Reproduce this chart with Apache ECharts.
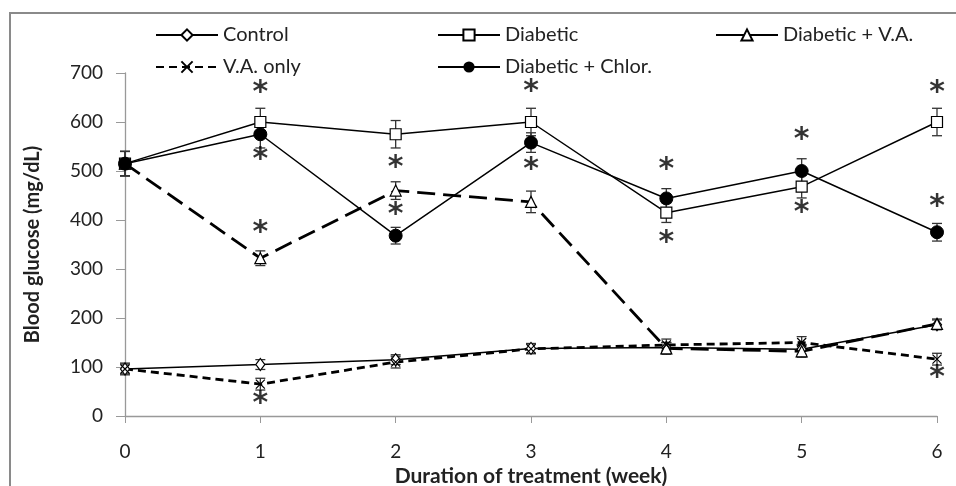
<!DOCTYPE html>
<html>
<head>
<meta charset="utf-8">
<script src="https://cdn.jsdelivr.net/npm/echarts@6/dist/echarts.min.js"></script>
<style>
  html, body { margin: 0; padding: 0; background: #fff; }
  #chart { width: 956px; height: 486px; }
</style>
</head>
<body>
<div id="chart"></div>
<script>
// weeks of treatment
let weeks = [0, 1, 2, 3, 4, 5, 6]

// mean blood glucose (mg/dL)
let control = [96, 105, 115, 138, 140, 136, 186]
let diabetic = [515, 600, 575, 600, 415, 468, 600]
let diabeticVA = [515, 322, 460, 437, 138, 132, 188]
let vaOnly = [96, 65, 110, 137, 145, 150, 116]
let diabeticChlor = [515, 575, 368, 558, 444, 500, 375]

// error bars (+/-)
let controlErr = [10, 10, 10, 10, 10, 10, 10]
let diabeticErr = [25, 28, 28, 28, 20, 23, 28]
let diabeticVAErr = [25, 15, 18, 22, 12, 12, 10]
let vaOnlyErr = [12, 12, 12, 10, 12, 12, 12]
let diabeticChlorErr = [25, 28, 17, 20, 20, 25, 18]

// significance asterisks
let starX = [1, 1, 1, 1, 2, 2, 3, 3, 4, 4, 5, 5, 6, 6, 6]
let starY = [658, 522, 374, 24, 505, 410, 660, 502, 502, 352, 563, 414, 659, 427, 77]

let yTicks = [0, 100, 200, 300, 400, 500, 600, 700]

const FONT = 'Lato'

let chart = echarts.init(document.getElementById('chart'), null, {renderer: 'canvas'})

function pairs(vals) {
    return weeks.map((w, i) => [w, vals[i]])
}
function errData(vals, errs) {
    return weeks.map((w, i) => [w, vals[i] - errs[i], vals[i] + errs[i]])
}
function errRender(params, api) {
    let x = api.value(0)
    let lo = api.coord([x, api.value(1)])
    let hi = api.coord([x, api.value(2)])
    let cap = 5
    let st = {stroke: '#333', lineWidth: 1.3}
    return {
        type: 'group',
        children: [
            {type: 'line', shape: {x1: lo[0], y1: lo[1], x2: hi[0], y2: hi[1]}, style: st},
            {type: 'line', shape: {x1: lo[0] - cap, y1: lo[1], x2: lo[0] + cap, y2: lo[1]}, style: st},
            {type: 'line', shape: {x1: hi[0] - cap, y1: hi[1], x2: hi[0] + cap, y2: hi[1]}, style: st}
        ]
    }
}
function errSeries(vals, errs) {
    return {
        type: 'custom',
        renderItem: errRender,
        data: errData(vals, errs),
        encode: {x: 0, y: [1, 2]},
        silent: true,
        z: 1
    }
}

const hollow = {color: '#fff', borderColor: '#000', borderWidth: 1.2}
const crossPath = 'path://M0,0L10,10M10,0L0,10'

function legendItem(name, left, top, lineStyle) {
    let item = {name: name}
    if (lineStyle) item.lineStyle = lineStyle
    return {
        data: [item],
        left: left,
        top: top,
        itemWidth: 62,
        itemHeight: 14,
        textStyle: {fontFamily: FONT, fontSize: 20, color: '#222'},
        selectedMode: false
    }
}

let option = {
    animation: false,
    backgroundColor: '#fff',
    graphic: [{
        type: 'rect',
        shape: {x: 10, y: 13, width: 970, height: 500},
        style: {fill: 'none', stroke: '#8a8a8a', lineWidth: 2},
        silent: true
    }],
    legend: [
        legendItem('Control', 150, 20),
        legendItem('Diabetic', 432, 20),
        legendItem('Diabetic + V.A.', 710, 20, {type: 'solid'}),
        legendItem('V.A. only', 150, 52),
        legendItem('Diabetic + Chlor.', 432, 52)
    ],
    grid: {left: 125, right: 19, top: 73, bottom: 70, outerBoundsMode: 'none', containLabel: false},
    xAxis: {
        type: 'value',
        min: 0, max: 6, interval: 1,
        name: 'Duration of treatment (week)',
        nameLocation: 'middle',
        nameGap: 50,
        nameTextStyle: {fontFamily: FONT, fontSize: 21, fontWeight: 'bold', color: '#222'},
        axisLine: {lineStyle: {color: '#999', width: 1.3}},
        axisTick: {show: true, length: 7, lineStyle: {color: '#999'}},
        axisLabel: {fontFamily: FONT, fontSize: 19, color: '#222', margin: 26},
        splitLine: {show: false}
    },
    yAxis: {
        type: 'value',
        min: yTicks[0], max: yTicks[yTicks.length - 1], interval: 100,
        name: 'Blood glucose (mg/dL)',
        nameLocation: 'middle',
        nameGap: 82,
        nameTextStyle: {fontFamily: FONT, fontSize: 20, fontWeight: 'bold', color: '#222'},
        axisLine: {show: true, lineStyle: {color: '#999', width: 1.3}},
        axisTick: {show: true, inside: false, length: 9, lineStyle: {color: '#999'}},
        axisLabel: {fontFamily: FONT, fontSize: 19, color: '#222', margin: 22},
        splitLine: {show: false}
    },
    series: [
        errSeries(control, controlErr),
        errSeries(diabetic, diabeticErr),
        errSeries(diabeticVA, diabeticVAErr),
        errSeries(vaOnly, vaOnlyErr),
        errSeries(diabeticChlor, diabeticChlorErr),
        {
            name: 'Control', type: 'line', data: pairs(control),
            symbol: 'diamond', symbolSize: [9, 12],
            lineStyle: {color: '#000', width: 1.5},
            itemStyle: hollow, z: 3
        },
        {
            name: 'Diabetic', type: 'line', data: pairs(diabetic),
            symbol: 'rect', symbolSize: 11,
            lineStyle: {color: '#000', width: 1.5},
            itemStyle: hollow, z: 3
        },
        {
            name: 'Diabetic + V.A.', type: 'line', data: pairs(diabeticVA),
            symbol: 'triangle', symbolSize: 11,
            lineStyle: {color: '#000', width: 2.8, type: [18, 8]},
            itemStyle: hollow, z: 3
        },
        {
            name: 'V.A. only', type: 'line', data: pairs(vaOnly),
            symbol: crossPath, symbolSize: 9,
            lineStyle: {color: '#000', width: 2.8, type: [8, 5]},
            itemStyle: {color: 'none', borderColor: '#000', borderWidth: 1.2}, z: 3
        },
        {
            name: 'Diabetic + Chlor.', type: 'line', data: pairs(diabeticChlor),
            symbol: 'circle', symbolSize: 13,
            lineStyle: {color: '#000', width: 1.5},
            itemStyle: {color: '#000', borderColor: '#000'}, z: 3
        },
        {
            type: 'scatter',
            data: starX.map((x, i) => [x, starY[i]]),
            symbolSize: 1,
            itemStyle: {color: 'rgba(0,0,0,0)'},
            silent: true,
            label: {
                show: true, position: 'inside', formatter: '*',
                fontFamily: 'DejaVu Sans', fontSize: 30, fontWeight: 'bold', color: '#000',
                offset: [0, 21]
            },
            labelLayout: {hideOverlap: false},
            z: 4
        }
    ]
}

chart.setOption(option)
</script>
</body>
</html>
